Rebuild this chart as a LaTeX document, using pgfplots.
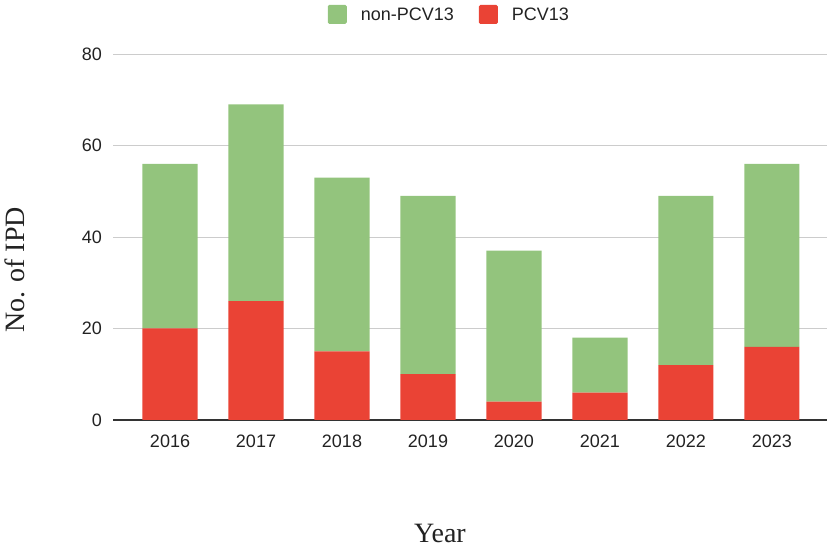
\documentclass[border=0pt]{standalone}
\usepackage{fontspec}
\setmainfont{Liberation Sans}
\newfontfamily\seriffont{Liberation Serif}
\usepackage{pgfplots}
\pgfplotsset{compat=1.18}
\definecolor{cgreen}{HTML}{93C47D}
\definecolor{cred}{HTML}{EA4335}
\definecolor{ctext}{HTML}{222222}
\definecolor{cgrid}{HTML}{CCCCCC}
\definecolor{cbase}{HTML}{333333}
\begin{document}
\begin{tikzpicture}
\useasboundingbox (0,0) rectangle (833bp,550bp);
\begin{axis}[
  at={(113bp,130bp)}, anchor=south west,
  scale only axis, width=714bp, height=366bp,
  ybar stacked, bar width=0.64,
  xmin=-0.663, xmax=7.64, ymin=0, ymax=80,
  xtick={0,1,2,3,4,5,6,7},
  xticklabels={2016,2017,2018,2019,2020,2021,2022,2023},
  ytick={0,20,40,60,80},
  ymajorgrids, grid style={draw=cgrid, line width=0.9bp},
  extra y ticks={0}, extra y tick labels={},
  extra y tick style={grid style={draw=cbase, line width=1.2bp}},
  major tick length=0,
  axis line style={draw=none},
  /pgf/number format/assume math mode=true,
  tick label style={font=\fontsize{18bp}{21bp}\selectfont, text=ctext},
  xticklabel style={anchor=north, inner sep=0pt, yshift=-15bp},
  yticklabel style={anchor=east, inner sep=0pt, xshift=-11bp},
  xlabel={Year}, ylabel={No. of IPD},
  label style={font=\seriffont\fontsize{28bp}{32bp}\selectfont, text=ctext},
  xlabel style={at={(rel axis cs:0.458,-0.336)}, anchor=base, inner sep=0pt},
  ylabel style={at={(rel axis cs:-0.137,0.41)}, anchor=center, inner sep=0pt, rotate=0},
  reverse legend,
  legend columns=2,
  legend style={at={(0.471,1.108)}, anchor=center, draw=none, fill=none,
    font=\fontsize{18bp}{21bp}\selectfont, text=ctext,
    /tikz/every even column/.style={column sep=23bp}},
  legend image code/.code={\path[#1, draw=none, rounded corners=1.5bp] (0bp,-9.5bp) rectangle (19bp,9.5bp); \path (31bp,0bp);},
]
\addplot[fill=cred, draw=none] coordinates {(0,20) (1,26) (2,15) (3,10) (4,4) (5,6) (6,12) (7,16)};
\addplot[fill=cgreen, draw=none] coordinates {(0,36) (1,43) (2,38) (3,39) (4,33) (5,12) (6,37) (7,40)};
\legend{PCV13, non-PCV13}
\end{axis}
\end{tikzpicture}
\end{document}
